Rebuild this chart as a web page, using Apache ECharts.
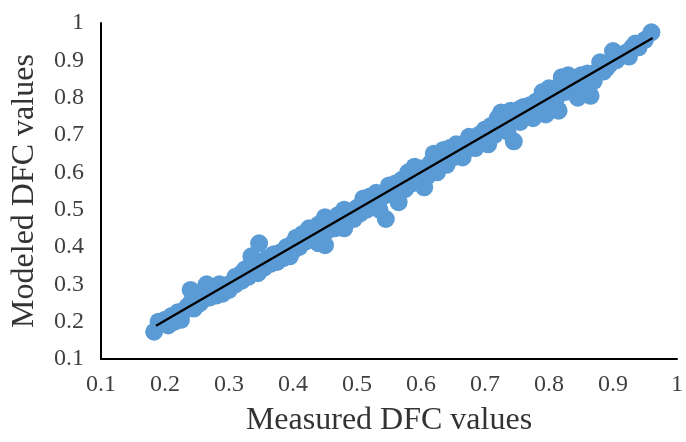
<!DOCTYPE html>
<html><head><meta charset="utf-8">
<script src="https://cdn.jsdelivr.net/npm/echarts@6/dist/echarts.min.js"></script>
<style>html,body{margin:0;padding:0;background:#fff}#c{width:686px;height:442px}</style>
</head><body><div id="c"></div>
<script>
const measuredX = [0.183,0.19,0.20,0.205,0.21,0.215,0.22,0.225,0.23,0.235,0.24,0.24,0.245,0.25,0.255,0.26,0.265,0.27,0.27,0.28,0.28,0.285,0.29,0.295,0.30,0.30,0.31,0.31,0.315,0.32,0.32,0.325,0.33,0.335,0.34,0.345,0.347,0.35,0.355,0.36,0.365,0.37,0.375,0.38,0.385,0.39,0.395,0.40,0.40,0.405,0.41,0.415,0.42,0.425,0.43,0.435,0.44,0.44,0.445,0.45,0.45,0.455,0.46,0.465,0.47,0.475,0.48,0.48,0.485,0.49,0.495,0.50,0.505,0.51,0.515,0.52,0.525,0.53,0.535,0.54,0.545,0.55,0.555,0.56,0.565,0.57,0.575,0.58,0.585,0.59,0.595,0.60,0.605,0.61,0.615,0.62,0.625,0.63,0.635,0.64,0.645,0.65,0.655,0.66,0.665,0.67,0.675,0.68,0.685,0.69,0.695,0.70,0.705,0.71,0.715,0.72,0.725,0.73,0.735,0.74,0.745,0.75,0.755,0.76,0.765,0.77,0.775,0.78,0.785,0.79,0.795,0.80,0.805,0.81,0.815,0.82,0.825,0.83,0.835,0.84,0.845,0.85,0.855,0.865,0.87,0.875,0.88,0.885,0.89,0.90,0.905,0.91,0.92,0.93,0.935,0.94,0.95,0.96,
  0.25,0.29,0.33,0.37,0.43,0.47,0.53,0.57,0.61,0.65,0.69,0.73,0.77,0.81,0.84,0.86,0.895,0.925,
  0.26,0.31,0.39,0.46,0.51,0.555,0.59,0.635,0.675,0.71,0.755,0.79,0.815,0.85];
const modeledY = [0.173,0.20,0.205,0.19,0.215,0.20,0.225,0.205,0.23,0.24,0.285,0.25,0.235,0.27,0.25,0.26,0.30,0.28,0.265,0.29,0.27,0.30,0.275,0.29,0.30,0.285,0.315,0.30,0.32,0.33,0.31,0.34,0.32,0.375,0.34,0.33,0.41,0.36,0.345,0.37,0.355,0.38,0.36,0.385,0.37,0.395,0.375,0.41,0.39,0.425,0.40,0.435,0.415,0.45,0.42,0.44,0.46,0.41,0.43,0.48,0.405,0.445,0.47,0.45,0.475,0.46,0.50,0.45,0.48,0.49,0.475,0.505,0.49,0.52,0.50,0.535,0.51,0.545,0.50,0.535,0.475,0.565,0.54,0.57,0.52,0.58,0.555,0.60,0.57,0.605,0.58,0.61,0.56,0.59,0.625,0.65,0.60,0.64,0.66,0.62,0.665,0.64,0.675,0.655,0.64,0.68,0.665,0.69,0.665,0.70,0.68,0.715,0.675,0.72,0.70,0.745,0.76,0.735,0.71,0.765,0.683,0.75,0.735,0.775,0.755,0.78,0.745,0.79,0.765,0.80,0.755,0.825,0.78,0.80,0.765,0.855,0.815,0.86,0.82,0.845,0.80,0.85,0.83,0.805,0.845,0.87,0.895,0.87,0.88,0.925,0.90,0.915,0.92,0.935,0.945,0.935,0.955,0.975,
  0.245,0.29,0.345,0.38,0.445,0.485,0.525,0.56,0.60,0.645,0.685,0.72,0.765,0.79,0.825,0.865,0.89,0.91,
  0.28,0.32,0.40,0.455,0.53,0.565,0.615,0.635,0.695,0.725,0.77,0.815,0.83,0.86];
const trendX = [0.186, 0.962];
const trendY = [0.189, 0.960];
const axisMin = 0.1, axisMax = 1, axisStep = 0.1;

const fmt = v => (Math.abs(v-1)<1e-9 ? '1' : (Math.round(v*10)/10).toString());
const chart = echarts.init(document.getElementById('c'));
chart.setOption({
  animation:false,
  grid:{left:101,right:5,top:23,bottom:77,containLabel:false},
  xAxis:{type:'value',min:axisMin,max:axisMax,interval:axisStep,
    name:'Measured DFC values',nameLocation:'middle',nameGap:46,
    nameTextStyle:{fontFamily:'Liberation Serif',fontSize:32,color:'#333333'},
    axisLine:{lineStyle:{color:'#000',width:2}},axisTick:{show:false},splitLine:{show:false},
    axisLabel:{fontFamily:'Liberation Serif',fontSize:24,color:'#404040',margin:14,formatter:fmt}},
  yAxis:{type:'value',min:axisMin,max:axisMax,interval:axisStep,
    name:'Modeled DFC values',nameLocation:'middle',nameGap:60,
    nameTextStyle:{fontFamily:'Liberation Serif',fontSize:32,color:'#333333'},
    axisLine:{show:true,lineStyle:{color:'#000',width:2}},axisTick:{show:false},splitLine:{show:false},
    axisLabel:{fontFamily:'Liberation Serif',fontSize:24,color:'#404040',margin:17,formatter:fmt}},
  series:[
    {type:'scatter',data:measuredX.map((x,i)=>[x,modeledY[i]]),symbolSize:18,
      itemStyle:{color:'#5B9BD5',opacity:1}},
    {type:'line',data:trendX.map((x,i)=>[x,trendY[i]]),symbol:'none',
      lineStyle:{color:'#000',width:2.2},z:5}
  ]
});
</script></body></html>
